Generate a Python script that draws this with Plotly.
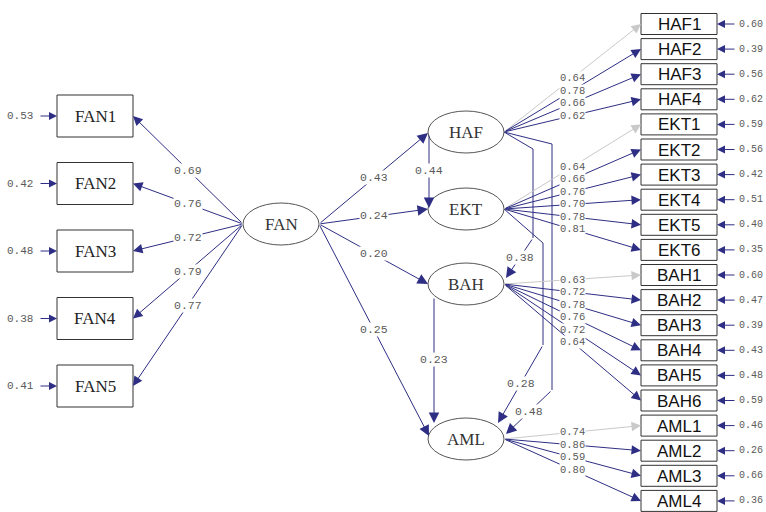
import plotly.graph_objects as go

# ---------------- data ----------------
latent_names = ["FAN", "HAF", "EKT", "BAH", "AML"]

fan_items = ["FAN1", "FAN2", "FAN3", "FAN4", "FAN5"]
fan_loadings = [0.69, 0.76, 0.72, 0.79, 0.77]
fan_errors = [0.53, 0.42, 0.48, 0.38, 0.41]

haf_items = ["HAF1", "HAF2", "HAF3", "HAF4"]
haf_loadings = [0.64, 0.78, 0.66, 0.62]
haf_errors = [0.60, 0.39, 0.56, 0.62]

ekt_items = ["EKT1", "EKT2", "EKT3", "EKT4", "EKT5", "EKT6"]
ekt_loadings = [0.64, 0.66, 0.76, 0.70, 0.78, 0.81]
ekt_errors = [0.59, 0.56, 0.42, 0.51, 0.40, 0.35]

bah_items = ["BAH1", "BAH2", "BAH3", "BAH4", "BAH5", "BAH6"]
bah_loadings = [0.63, 0.72, 0.78, 0.76, 0.72, 0.64]
bah_errors = [0.60, 0.47, 0.39, 0.43, 0.48, 0.59]

aml_items = ["AML1", "AML2", "AML3", "AML4"]
aml_loadings = [0.74, 0.86, 0.59, 0.80]
aml_errors = [0.46, 0.26, 0.66, 0.36]

path_from = ["FAN", "FAN", "FAN", "FAN", "HAF", "HAF", "HAF", "EKT", "BAH"]
path_to = ["HAF", "EKT", "BAH", "AML", "EKT", "BAH", "AML", "AML", "AML"]
path_coef = [0.43, 0.24, 0.20, 0.25, 0.44, 0.38, 0.48, 0.28, 0.23]

# ---------------- layout / style ----------------
W, H = 766, 512
LINE = "#2e2e84"
FIXED = "#c9c9c9"
LBL = "#5a5a5a"
MONO = "Liberation Mono"
SERIF = "Liberation Serif"
SANS = "Liberation Sans"

RX, RY = 38, 21
centers = {"FAN": (281, 224), "HAF": (466, 132), "EKT": (466, 209),
           "BAH": (466, 284), "AML": (466, 439)}

shapes, annotations = [], []


def arrow(x0, y0, x1, y1, color=LINE, size=1.9):
    annotations.append(dict(x=x1, y=y1, ax=x0, ay=y0, xref="x", yref="y",
                            axref="x", ayref="y", text="", showarrow=True,
                            arrowhead=2, arrowsize=size, arrowwidth=1,
                            arrowcolor=color, standoff=0, startstandoff=0))


def label(x, y, txt, size=11.5, color=LBL, anchor="center", bg="white"):
    annotations.append(dict(x=x, y=y, xref="x", yref="y", text=txt,
                            showarrow=False, xanchor=anchor, yanchor="middle",
                            font=dict(family=MONO, size=size, color=color),
                            bgcolor=bg, borderpad=0))


def polyline(points, color=LINE):
    d = "M " + " L ".join(f"{x},{y}" for x, y in points)
    shapes.append(dict(type="path", path=d, xref="x", yref="y",
                       line=dict(color=color, width=1)))


# ---- exogenous FAN indicators (left) ----
LBX0, LBX1, LBH = 57, 133, 42
fan_x, fan_y = centers["FAN"]
for i, (name, lam, err) in enumerate(zip(fan_items, fan_loadings, fan_errors)):
    yc = 116 + 67.5 * i
    shapes.append(dict(type="rect", x0=LBX0, x1=LBX1, y0=yc - LBH / 2, y1=yc + LBH / 2,
                       line=dict(color="#333333", width=1), fillcolor="white", layer="above"))
    annotations.append(dict(x=(LBX0 + LBX1) / 2, y=yc, xref="x", yref="y", text=name,
                            showarrow=False, font=dict(family=SERIF, size=17, color="#222")))
    arrow(fan_x - RX, fan_y, LBX1, yc)
    lx = 188
    t = (lx - (fan_x - RX)) / (LBX1 - (fan_x - RX))
    ly = fan_y + t * (yc - fan_y)
    label(lx, ly, f"{lam:.2f}")
    arrow(39, yc, LBX0, yc, size=1.6)
    label(20, yc, f"{err:.2f}", size=11, bg="rgba(0,0,0,0)")

# ---- endogenous indicators (right) ----
RBX0, RBX1, RBH = 641, 717, 21
groups = [("HAF", haf_items, haf_loadings, haf_errors),
          ("EKT", ekt_items, ekt_loadings, ekt_errors),
          ("BAH", bah_items, bah_loadings, bah_errors),
          ("AML", aml_items, aml_loadings, aml_errors)]
k = 0
for lat, items, lams, errs in groups:
    cx, cy = centers[lat]
    for j, (name, lam, err) in enumerate(zip(items, lams, errs)):
        yc = 24 + 25.1 * k
        k += 1
        col = FIXED if j == 0 else LINE
        shapes.append(dict(type="rect", x0=RBX0, x1=RBX1, y0=yc - RBH / 2, y1=yc + RBH / 2,
                           line=dict(color="#333333", width=1), fillcolor="white", layer="above"))
        annotations.append(dict(x=(RBX0 + RBX1) / 2, y=yc + 0.5, xref="x", yref="y", text=name,
                                showarrow=False, font=dict(family=SANS, size=17, color="#111")))
        arrow(cx + RX, cy, RBX0, yc, color=col)
        label((cx + RX + RBX0) / 2, (cy + yc) / 2, f"{lam:.2f}", size=10.5)
        arrow(736, yc, RBX1, yc, size=1.6)
        label(738, yc, f"{err:.2f}", size=10, anchor="left", bg="rgba(0,0,0,0)")

# ---- structural paths ----
routes = {
    ("FAN", "HAF"): [(319, 224), (428, 133)],
    ("FAN", "EKT"): [(319, 224), (428, 209)],
    ("FAN", "BAH"): [(319, 224), (428, 284)],
    ("FAN", "AML"): [(319, 224), (429, 436)],
    ("HAF", "EKT"): [(429, 134), (429, 208)],
    ("HAF", "BAH"): [(504, 132), (533, 149), (533, 238), (506, 278)],
    ("HAF", "AML"): [(504, 132), (552, 144), (552, 390), (506, 434)],
    ("EKT", "AML"): [(504, 209), (543, 243), (543, 345), (498, 423)],
    ("BAH", "AML"): [(434, 297), (434, 423)],
}
for a, b, coef in zip(path_from, path_to, path_coef):
    pts = routes[(a, b)]
    if len(pts) > 2:
        polyline(pts[:-1])
    (x0, y0), (x1, y1) = pts[-2], pts[-1]
    arrow(x0, y0, x1, y1, size=2.1)
    label((x0 + x1) / 2, (y0 + y1) / 2 - 1, f"{coef:.2f}")

# ---- latent ellipses ----
for name in latent_names:
    cx, cy = centers[name]
    shapes.append(dict(type="circle", x0=cx - RX, x1=cx + RX, y0=cy - RY, y1=cy + RY,
                       xref="x", yref="y", line=dict(color="#555555", width=1),
                       fillcolor="white", layer="above"))
    annotations.append(dict(x=cx, y=cy, xref="x", yref="y", text=name, showarrow=False,
                            font=dict(family=SERIF, size=17, color="#333")))

fig = go.Figure()
fig.add_trace(go.Scatter(x=[0, W], y=[0, H], mode="markers",
                         marker=dict(opacity=0), hoverinfo="skip", showlegend=False))
fig.update_layout(width=W, height=H, margin=dict(l=0, r=0, t=0, b=0),
                  paper_bgcolor="white", plot_bgcolor="white",
                  xaxis=dict(range=[0, W], visible=False, fixedrange=True),
                  yaxis=dict(range=[H, 0], visible=False, fixedrange=True),
                  shapes=shapes, annotations=annotations, showlegend=False)
fig.write_html("out.html")
